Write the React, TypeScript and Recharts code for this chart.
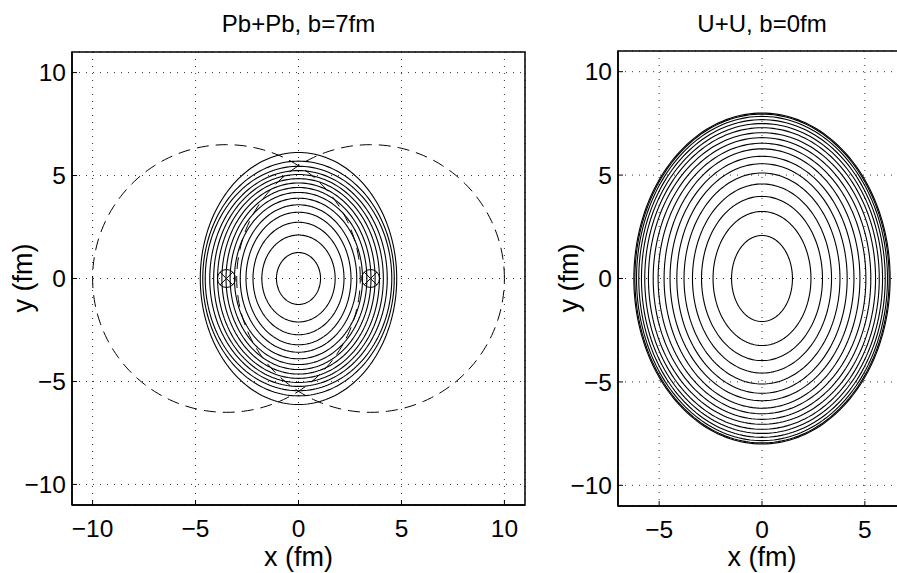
import React from "react";
import { ComposedChart, Line, Scatter, XAxis, YAxis, CartesianGrid, ReferenceArea } from "recharts";

const FONT = '"Liberation Sans", Arial, Helvetica, sans-serif';

const pbTitle = "Pb+Pb, b=7fm";
const uTitle = "U+U, b=0fm";
const xLabel = "x (fm)";
const yLabel = "y (fm)";

const pbXTicks = [-10, -5, 0, 5, 10];
const uXTicks = [-5, 0, 5];
const yTicks = [-10, -5, 0, 5, 10];
const pbXDomain = [-11, 11];
const uXDomain = [-7, 7];
const yDomain = [-11, 11];

// contour semi-axes (outermost first)
const pbContourSemiX = [4.77, 4.65, 4.53, 4.31, 4.12, 3.93, 3.72, 3.52, 3.32, 3.11, 2.83, 2.55, 2.21, 1.78, 1.07];
const pbContourSemiY = [6.12, 5.7, 5.45, 5.24, 5.05, 4.85, 4.64, 4.42, 4.18, 3.9, 3.58, 3.22, 2.73, 2.11, 1.26];
const uContourSemiX = [6.23, 6.18, 6.1, 5.99, 5.86, 5.7, 5.52, 5.29, 5.05, 4.76, 4.47, 4.14, 3.79, 3.38, 2.94, 2.38, 1.48];
const uContourSemiY = [8.0, 7.95, 7.84, 7.68, 7.49, 7.29, 7.05, 6.81, 6.54, 6.27, 5.91, 5.55, 5.1, 4.57, 3.97, 3.24, 2.08];

// nuclei outlines (dashed) and participant centres (markers)
const pbNucleusCenterX = [-3.5, 3.5];
const pbNucleusRadius = [6.5, 6.5];
const pbMarkerX = [-3.5, 3.5];
const pbMarkerY = [0, 0];

function ellipsePoints(rx: number, ry: number, cx = 0, cy = 0) {
  const n = 200;
  const pts: { x: number; y: number }[] = [];
  for (let i = 0; i <= n; i++) {
    const t = (2 * Math.PI * i) / n;
    pts.push({ x: cx + rx * Math.cos(t), y: cy + ry * Math.sin(t) });
  }
  return pts;
}

const pbContours = pbContourSemiX.map((a, i) => ellipsePoints(a, pbContourSemiY[i]));
const uContours = uContourSemiX.map((a, i) => ellipsePoints(a, uContourSemiY[i]));
const pbNuclei = pbNucleusCenterX.map((c, i) => ellipsePoints(pbNucleusRadius[i], pbNucleusRadius[i], c, 0));
const pbMarkers = pbMarkerX.map((x, i) => ({ x, y: pbMarkerY[i] }));

const fmt = (v: number) => (v < 0 ? "\u2212" + Math.abs(v) : String(v));
const TICK_FS = 24.5;
const TICK_LEN = 5;

const BottomTick = (p: any) => (
  <g>
    <line x1={p.x} x2={p.x} y1={p.y} y2={p.y - TICK_LEN} stroke="#000" strokeWidth={1} />
    <text x={p.x} y={p.y + 31.5} textAnchor="middle" fontSize={TICK_FS} fontFamily={FONT} fill="#000">
      {fmt(p.payload.value)}
    </text>
  </g>
);
const TopTick = (p: any) => (
  <line x1={p.x} x2={p.x} y1={p.y} y2={p.y + TICK_LEN} stroke="#000" strokeWidth={1} />
);
const LeftTick = (p: any) => (
  <g>
    <line x1={p.x} x2={p.x + TICK_LEN} y1={p.y} y2={p.y} stroke="#000" strokeWidth={1} />
    <text x={p.x - 6} y={p.y + 8.7} textAnchor="end" fontSize={TICK_FS} fontFamily={FONT} fill="#000">
      {fmt(p.payload.value)}
    </text>
  </g>
);
const RightTick = (p: any) => (
  <line x1={p.x} x2={p.x - TICK_LEN} y1={p.y} y2={p.y} stroke="#000" strokeWidth={1} />
);

const CrossCircle = (p: any) => {
  const { cx, cy } = p;
  const r = 9;
  const d = 6.5;
  return (
    <g>
      <circle cx={cx} cy={cy} r={r} fill="none" stroke="#000" strokeWidth={1} />
      <line x1={cx - d} y1={cy - d} x2={cx + d} y2={cy + d} stroke="#000" strokeWidth={1} />
      <line x1={cx - d} y1={cy + d} x2={cx + d} y2={cy - d} stroke="#000" strokeWidth={1} />
    </g>
  );
};

const axisLine = { stroke: "#000", strokeWidth: 1.5 };

function Panel(props: {
  width: number;
  margin: any;
  xDomain: number[];
  xTicks: number[];
  contours: { x: number; y: number }[][];
  nuclei?: { x: number; y: number }[][];
  markers?: { x: number; y: number }[];
}) {
  const { width, margin, xDomain, xTicks, contours, nuclei, markers } = props;
  return (
    <ComposedChart width={width} height={573} margin={margin}>
      <CartesianGrid stroke="#333" strokeDasharray="1 6" strokeWidth={1} />
      <XAxis
        dataKey="x"
        type="number"
        domain={xDomain}
        ticks={xTicks}
        interval={0}
        allowDataOverflow
        height={50}
        tickSize={0}
        tickMargin={0}
        tickLine={false}
        axisLine={axisLine}
        tick={BottomTick}
      />
      <XAxis
        xAxisId="top"
        orientation="top"
        dataKey="x"
        type="number"
        domain={xDomain}
        ticks={xTicks}
        interval={0}
        allowDataOverflow
        height={0}
        tickSize={0}
        tickMargin={0}
        tickLine={false}
        axisLine={false}
        tick={TopTick}
      />
      <YAxis
        dataKey="y"
        type="number"
        domain={yDomain}
        ticks={yTicks}
        interval={0}
        allowDataOverflow
        width={60}
        tickSize={0}
        tickMargin={0}
        tickLine={false}
        axisLine={axisLine}
        tick={LeftTick}
      />
      <YAxis
        yAxisId="right"
        orientation="right"
        dataKey="y"
        type="number"
        domain={yDomain}
        ticks={yTicks}
        interval={0}
        allowDataOverflow
        width={0}
        tickSize={0}
        tickMargin={0}
        tickLine={false}
        axisLine={false}
        tick={RightTick}
      />
      {(nuclei || []).map((pts, i) => (
        <Line
          key={"n" + i}
          data={pts}
          dataKey="y"
          type="linear"
          stroke="#000"
          strokeWidth={1}
          strokeDasharray="12 7"
          dot={false}
          activeDot={false}
          isAnimationActive={false}
        />
      ))}
      {contours.map((pts, i) => (
        <Line
          key={"c" + i}
          data={pts}
          dataKey="y"
          type="linear"
          stroke="#000"
          strokeWidth={1.1}
          dot={false}
          activeDot={false}
          isAnimationActive={false}
        />
      ))}
      {markers ? (
        <Scatter data={markers} dataKey="y" shape={CrossCircle} isAnimationActive={false} />
      ) : null}
      <ReferenceArea
        x1={xDomain[0]}
        x2={xDomain[1]}
        y1={yDomain[0]}
        y2={yDomain[1]}
        fill="none"
        fillOpacity={0}
        stroke="#000"
        strokeWidth={1.5}
        ifOverflow="visible"
      />
    </ComposedChart>
  );
}

export default function App() {
  return (
    <div
      style={{
        position: "fixed",
        left: 0,
        top: 0,
        width: 897,
        height: 573,
        overflow: "hidden",
        background: "#fff",
      }}
    >
      <div style={{ position: "absolute", left: 0, top: 0 }}>
        <Panel
          width={540}
          margin={{ top: 52, right: 15, bottom: 18, left: 12 }}
          xDomain={pbXDomain}
          xTicks={pbXTicks}
          contours={pbContours}
          nuclei={pbNuclei}
          markers={pbMarkers}
        />
      </div>
      <div style={{ position: "absolute", left: 540, top: 0 }}>
        <Panel
          width={380}
          margin={{ top: 51, right: 14, bottom: 17, left: 18 }}
          xDomain={uXDomain}
          xTicks={uXTicks}
          contours={uContours}
        />
      </div>
      <svg
        width={897}
        height={573}
        style={{ position: "absolute", left: 0, top: 0, pointerEvents: "none" }}
      >
        <g fontFamily={FONT} fill="#000">
          <text x={298.5} y={32} textAnchor="middle" fontSize={24}>{pbTitle}</text>
          <text x={762} y={32} textAnchor="middle" fontSize={24}>{uTitle}</text>
          <text x={298.5} y={566} textAnchor="middle" fontSize={27}>{xLabel}</text>
          <text x={762} y={566} textAnchor="middle" fontSize={27}>{xLabel}</text>
          <text x={32} y={278} textAnchor="middle" fontSize={27} transform="rotate(-90 32 278)">{yLabel}</text>
          <text x={578} y={278} textAnchor="middle" fontSize={27} transform="rotate(-90 578 278)">{yLabel}</text>
        </g>
      </svg>
    </div>
  );
}
